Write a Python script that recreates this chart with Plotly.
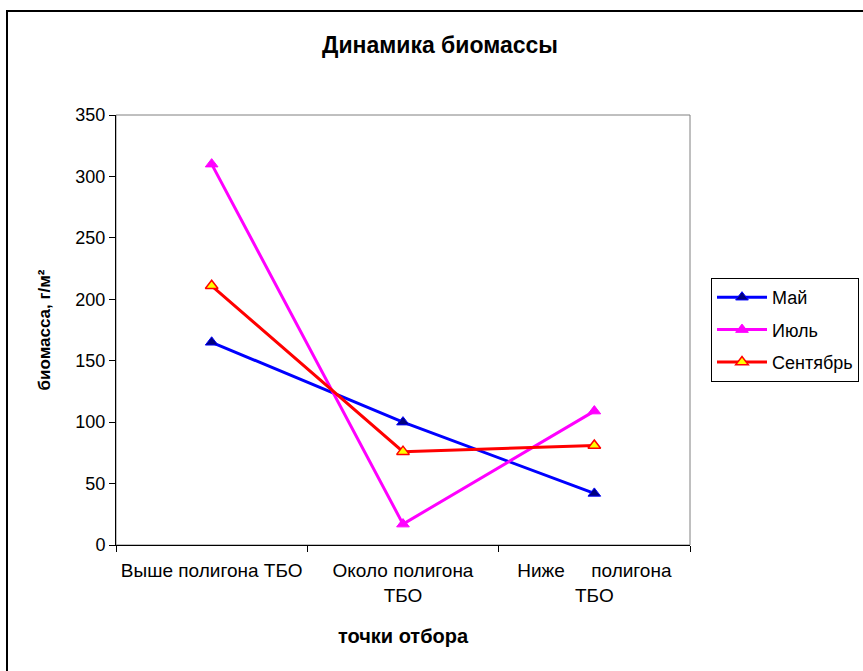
import plotly.graph_objects as go

categories = ["Выше полигона ТБО", "Около полигона<br>ТБО", "Ниже\u00a0\u00a0\u00a0\u00a0 полигона<br>ТБО"]
may = [165, 100, 42]
july = [310, 17, 109]
september = [211, 76, 81]

FONT = "Liberation Sans, Arial, sans-serif"

fig = go.Figure()
fig.add_trace(go.Scatter(x=categories, y=may, name="Май", mode="lines+markers",
                         line=dict(color="#0000FF", width=3),
                         marker=dict(symbol="triangle-up", size=11, color="#000080",
                                     line=dict(color="#0000FF", width=1)),
                         legendgroup="a"))
fig.add_trace(go.Scatter(x=categories, y=july, name="Июль", mode="lines+markers",
                         line=dict(color="#FF00FF", width=3),
                         marker=dict(symbol="triangle-up", size=11, color="#FF00FF",
                                     line=dict(color="#FF00FF", width=1)),
                         legendgroup="b"))
fig.add_trace(go.Scatter(x=categories, y=september, name="Сентябрь", mode="lines+markers",
                         line=dict(color="#FF0000", width=3),
                         marker=dict(symbol="triangle-up", size=11, color="#FFFF00",
                                     line=dict(color="#FF0000", width=1.5)),
                         legendgroup="c"))

fig.update_layout(
    width=863, height=671,
    margin=dict(l=116, r=173, t=115, b=126, autoexpand=False),
    paper_bgcolor="white", plot_bgcolor="white",
    font=dict(family=FONT, size=17, color="black"),
    title=dict(text="<b>Динамика биомассы</b>", x=440 / 863, xanchor="center",
               y=1 - 45 / 671, yanchor="middle", font=dict(size=23, family=FONT)),
    xaxis=dict(type="category", tickson="boundaries", ticks="outside", ticklen=6,
               tickcolor="black", showline=True, linecolor="black", linewidth=1,
               showgrid=False, range=[-0.5, 2.5], ticklabelstandoff=8,
               title=dict(text="<b>точки отбора</b>", font=dict(size=20), standoff=24),
               tickfont=dict(size=19)),
    yaxis=dict(range=[0, 350], dtick=50, ticks="outside", ticklen=6, tickcolor="black",
               showline=True, linecolor="black", linewidth=1, showgrid=False,
               zeroline=False,
               title=dict(text="<b>биомасса, г/м²</b>", font=dict(size=17), standoff=20),
               tickfont=dict(size=18)),
    legend=dict(x=(711 - 116) / 574, y=1 - (278 - 115) / 430, xanchor="left", yanchor="top",
                bordercolor="black", borderwidth=1, bgcolor="white",
                font=dict(size=18), traceorder="grouped", tracegroupgap=6,
                itemwidth=50),
    showlegend=True,
)

# plot-area border (gray top/right)
fig.add_shape(type="rect", xref="paper", yref="paper", x0=0, x1=1, y0=0, y1=1,
              line=dict(color="#808080", width=1), layer="below")
# outer chart border
fig.add_shape(type="rect", xref="paper", yref="paper",
              x0=(7 - 116) / 574, x1=(880 - 116) / 574,
              y0=(545 - 690) / 430, y1=1 + (115 - 11) / 430,
              line=dict(color="black", width=2))

fig.write_html("out.html")
